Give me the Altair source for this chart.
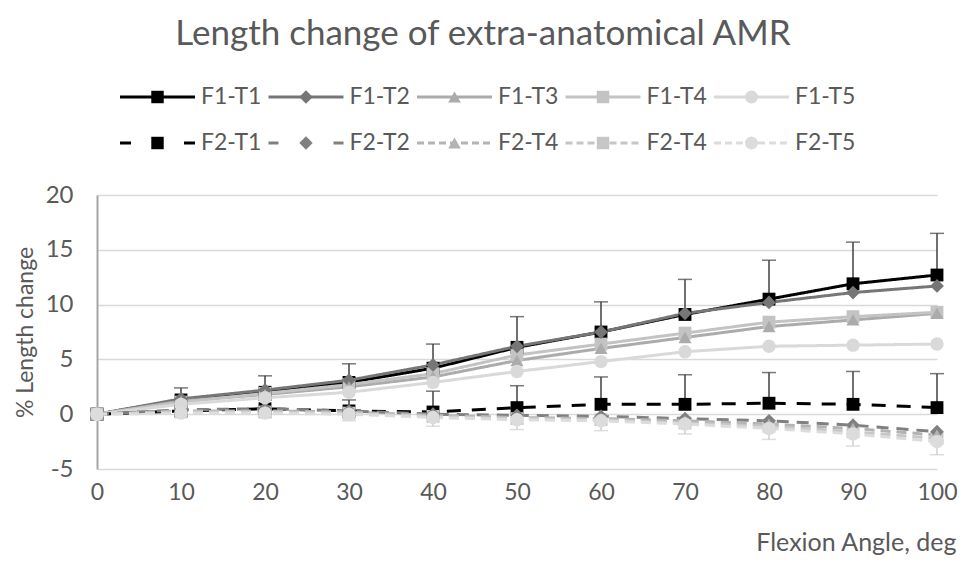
import altair as alt
import pandas as pd

# ---------------- data ----------------
angles = [0, 10, 20, 30, 40, 50, 60, 70, 80, 90, 100]

series_ids = ["F1-T1", "F1-T2", "F1-T3", "F1-T4", "F1-T5",
              "F2-T1", "F2-T2", "F2-T3", "F2-T4", "F2-T5"]
legend_labels = ["F1-T1", "F1-T2", "F1-T3", "F1-T4", "F1-T5",
                 "F2-T1", "F2-T2", "F2-T4", "F2-T4", "F2-T5"]

f1_t1 = [0, 1.3, 2.0, 2.9, 4.2, 6.1, 7.5, 9.1, 10.5, 11.9, 12.7]
f1_t2 = [0, 1.4, 2.2, 3.1, 4.5, 6.2, 7.5, 9.2, 10.2, 11.1, 11.7]
f1_t3 = [0, 1.2, 1.8, 2.5, 3.4, 4.9, 6.0, 7.0, 8.0, 8.6, 9.2]
f1_t4 = [0, 1.1, 1.9, 2.7, 3.7, 5.4, 6.4, 7.4, 8.4, 8.9, 9.3]
f1_t5 = [0, 0.9, 1.5, 2.0, 2.9, 3.9, 4.8, 5.7, 6.2, 6.3, 6.4]

f2_t1 = [0, 0.3, 0.5, 0.3, 0.2, 0.6, 0.9, 0.9, 1.0, 0.9, 0.6]
f2_t2 = [0, 0.4, 0.5, 0.3, 0.0, -0.1, -0.2, -0.4, -0.6, -1.0, -1.6]
f2_t3 = [0, 0.3, 0.3, 0.2, -0.1, -0.3, -0.4, -0.6, -0.9, -1.3, -1.9]
f2_t4 = [0, 0.2, 0.2, 0.1, -0.2, -0.4, -0.5, -0.8, -1.1, -1.6, -2.2]
f2_t5 = [0, 0.1, 0.1, 0.0, -0.3, -0.5, -0.6, -0.9, -1.3, -1.8, -2.5]

# standard deviations (only the visible whiskers)
f1_t1_sd = [0, 1.1, 1.5, 1.7, 2.2, 2.8, 2.75, 3.2, 3.55, 3.8, 3.8]
f2_t1_sd = [0, 0.6, 0.8, 1.0, 1.9, 2.0, 2.5, 2.7, 2.8, 3.0, 3.1]
f2_t5_sd = [0, 0.3, 0.4, 0.6, 0.8, 0.9, 0.9, 0.9, 1.0, 1.1, 1.2]

colors = ["#000000", "#767676", "#ababab", "#c3c3c3", "#d9d9d9",
          "#000000", "#808080", "#b3b3b3", "#c6c6c6", "#dcdcdc"]
markers = ["square", "diamond", "triangle-up", "square", "circle",
           "square", "diamond", "triangle-up", "square", "circle"]
dashes = [[1, 0], [1, 0], [1, 0], [1, 0], [1, 0],
          [14, 11], [12, 8], [10, 6], [10, 6], [10, 6]]
legend_dashes = [[1, 0], [1, 0], [1, 0], [1, 0], [1, 0],
                 [11, 53], [10, 55], [7, 4], [7, 4], [7, 4]]

values = [f1_t1, f1_t2, f1_t3, f1_t4, f1_t5, f2_t1, f2_t2, f2_t3, f2_t4, f2_t5]

rows = []
for sid, mk, vals in zip(series_ids, markers, values):
    for a, v in zip(angles, vals):
        rows.append({"series": sid, "angle": a, "value": v, "marker": mk})
df = pd.DataFrame(rows)

legend_df = pd.DataFrame({
    "series": series_ids,
    "label": legend_labels,
    "marker": markers,
    "col": [i % 5 for i in range(len(series_ids))],
    "row": [i // 5 for i in range(len(series_ids))],
})

err_rows = []
for sid, vals, sds, sign, tone in [("F1-T1", f1_t1, f1_t1_sd, 1, "dark"),
                                   ("F2-T1", f2_t1, f2_t1_sd, 1, "dark"),
                                   ("F2-T5", f2_t5, f2_t5_sd, -1, "light")]:
    for a, v, s in zip(angles, vals, sds):
        if s > 0:
            err_rows.append({"series": sid, "angle": a, "value": v,
                             "end": v + sign * s, "tone": tone})
err = pd.DataFrame(err_rows)

FONT = "Lato"
GREY_TEXT = "#595959"
marker_sizes = {"square": 165, "diamond": 190, "triangle-up": 170, "circle": 180}

x_scale = alt.Scale(domain=[0, 100], nice=False)
y_scale = alt.Scale(domain=[-5, 20], nice=False)

x_axis = alt.X("angle:Q", scale=x_scale,
               axis=alt.Axis(values=angles, title="Flexion Angle, deg",
                             domain=False, ticks=False, grid=False, labelFlush=False,
                             labelFontSize=23, labelColor=GREY_TEXT, labelFont=FONT,
                             labelPadding=12,
                             titleFontSize=25, titleColor=GREY_TEXT, titleFont=FONT,
                             titleFontWeight="normal",
                             titleX=859, titleY=81, titleAlign="right",
                             titleBaseline="alphabetic", titleAnchor="end"))
y_axis = alt.Y("value:Q", scale=y_scale,
               axis=alt.Axis(values=[-5, 0, 5, 10, 15, 20], title="% Length change",
                             labelExpr="'' + datum.value", labelFlush=False,
                             domain=True, domainColor="#a6a6a6", domainWidth=2,
                             ticks=False, grid=True, gridColor="#d9d9d9", gridWidth=1.5,
                             labelFontSize=24, labelColor=GREY_TEXT, labelFont=FONT,
                             labelPadding=24,
                             titleFontSize=23, titleColor=GREY_TEXT, titleFont=FONT,
                             titleFontWeight="normal", titlePadding=8))

color = alt.Color("series:N", scale=alt.Scale(domain=series_ids, range=colors), legend=None)

err_layers = []
for tone, col in [("dark", "#404040"), ("light", "#cfcfcf")]:
    base = alt.Chart(err).transform_filter(alt.datum.tone == tone)
    err_layers.append(base.mark_rule(strokeWidth=1.5, color=col).encode(
        x="angle:Q", y="value:Q", y2="end:Q"))
    err_layers.append(base.mark_tick(orient="horizontal", size=14, thickness=1.5, color=col).encode(
        x="angle:Q", y="end:Q"))

lines = alt.Chart(df).mark_line(strokeWidth=3, strokeCap="butt").encode(
    x=x_axis, y=y_axis, color=color,
    strokeDash=alt.StrokeDash("series:N", scale=alt.Scale(domain=series_ids, range=dashes), legend=None),
    order="angle:Q")

point_layers = []
for shp in ["square", "diamond", "triangle-up", "circle"]:
    point_layers.append(
        alt.Chart(df).transform_filter(alt.datum.marker == shp)
        .mark_point(filled=True, size=marker_sizes[shp], opacity=1, shape=shp)
        .encode(x="angle:Q", y="value:Q", color=color))

# error bars beneath the lines, markers on top
main = alt.layer(*err_layers, lines, *point_layers)

# ---------------- legend (two rows of five, line + marker glyphs) ----------------
lx = alt.X("col:Q", scale=alt.Scale(domain=[0, 4], range=[23, 617]), axis=None)
ly = alt.Y("row:Q", scale=alt.Scale(domain=[0, 1], range=[-98, -52]), axis=None)

leg_lines = alt.Chart(legend_df).mark_rule(strokeWidth=3, x2Offset=75).encode(
    x=lx, x2="col:Q", y=ly, color=color,
    strokeDash=alt.StrokeDash("series:N", scale=alt.Scale(domain=series_ids, range=legend_dashes),
                              legend=None))
leg_points = []
for shp in ["square", "diamond", "triangle-up", "circle"]:
    leg_points.append(
        alt.Chart(legend_df).transform_filter(alt.datum.marker == shp)
        .mark_point(filled=True, size=marker_sizes[shp] - 10, opacity=1, shape=shp, xOffset=37.5)
        .encode(x="col:Q", y="row:Q", color=color))
leg_text = alt.Chart(legend_df).mark_text(align="left", baseline="middle", xOffset=81,
                                          fontSize=23, font=FONT, color=GREY_TEXT).encode(
    x="col:Q", y="row:Q", text="label:N")

legend = alt.layer(leg_lines, *leg_points, leg_text)

chart = alt.layer(main, legend).resolve_scale(
    x="independent", y="independent", strokeDash="independent"
).properties(
    width=840, height=274,
    autosize=alt.AutoSizeParams(type="none"),
    padding={"left": 89, "top": 187, "right": 21, "bottom": 88},
    title=alt.TitleParams("Length change of extra-anatomical AMR", fontSize=35,
                          font=FONT, color=GREY_TEXT, fontWeight="normal",
                          anchor="middle", frame="group", dx=-34, offset=34)
).configure_view(stroke=None)

chart.save("out.html", embed_options={"renderer": "svg", "actions": False})
